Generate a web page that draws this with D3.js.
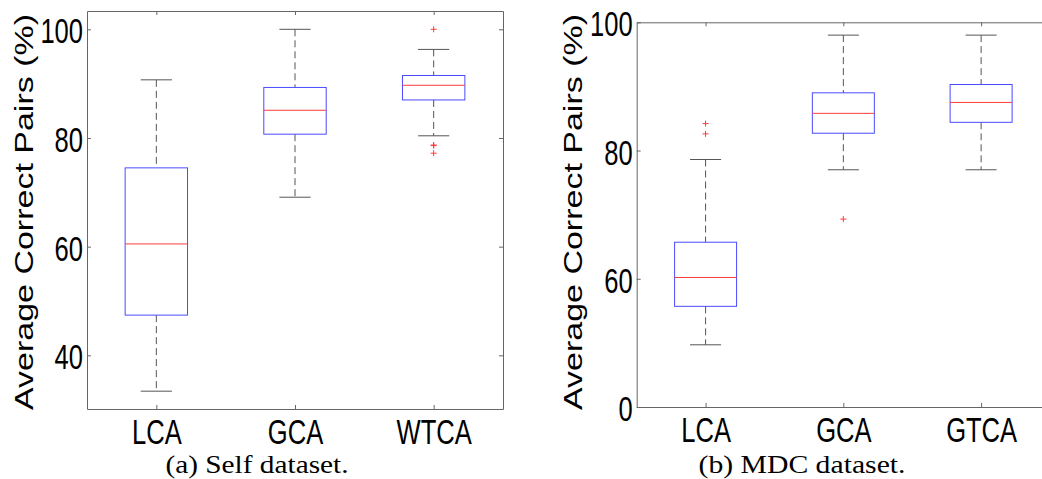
<!DOCTYPE html>
<html>
<head>
<meta charset="utf-8">
<script src="https://cdn.jsdelivr.net/npm/d3@7"></script>
<style>
  body { margin: 0; background: #fff; }
  svg { display: block; }
</style>
</head>
<body>
<div class="canvas"></div>
<script>
// Data: (a) Self dataset
const selfCategories = ["LCA", "GCA", "WTCA"];
const selfLow = [33.4, 69.1, 80.4];
const selfQ1 = [47.4, 80.7, 87.0];
const selfMedian = [60.5, 85.1, 89.7];
const selfQ3 = [74.5, 89.3, 91.5];
const selfHigh = [90.7, 100, 96.3];
const selfOutliers = [[], [], [100, 78.7, 78.6, 77.2]];
const selfTicks = [40, 60, 80, 100];
const selfTickLabels = ["40", "60", "80", "100"];

// Data: (b) MDC dataset
const mdcCategories = ["LCA", "GCA", "GTCA"];
const mdcLow = [49.7, 77.0, 77.0];
const mdcQ1 = [55.7, 82.7, 84.4];
const mdcMedian = [60.2, 85.8, 87.5];
const mdcQ3 = [65.7, 89.0, 90.3];
const mdcHigh = [78.6, 98.0, 98.0];
const mdcOutliers = [[84.2, 82.6], [69.3], []];
const mdcTicks = [40, 60, 80, 100];
const mdcTickLabels = ["0", "60", "80", "100"];

// Settings
const width = 1042;
const height = 479;
const frame_color = "#666";
const whisker_color = "#555";
const box_color = "#4a4aff";
const median_color = "#ff3b3b";
const tick_size = 4;
const squeeze = 0.73;      // figure was squeezed horizontally
const sans = "'Liberation Sans', Arial, Helvetica, sans-serif";

const svg = d3.select(".canvas").append("svg")
    .attr("width", width)
    .attr("height", height);

function drawPanel(p) {
  const x = d3.scaleLinear().domain([0.5, 3.5]).range([p.left, p.right]);
  const y = d3.scaleLinear().domain(p.yDomain).range([p.bottom, p.top]);
  const g = svg.append("g");

  const boxes = p.categories.map((c, i) => ({
    pos: i + 1, low: p.low[i], q1: p.q1[i], med: p.median[i],
    q3: p.q3[i], high: p.high[i], out: p.outliers[i]
  }));

  // frame axes
  const left = g.append("g").attr("transform", `translate(${p.left},0)`)
    .call(d3.axisLeft(y).tickValues(p.ticks).tickSizeInner(-tick_size).tickSizeOuter(0)
      .tickFormat((d, i) => p.tickLabels[i]));
  left.selectAll("text")
    .attr("x", null).attr("dy", null)
    .attr("text-anchor", "end")
    .attr("dominant-baseline", "central")
    .attr("transform", `translate(-4,1) scale(${squeeze},1)`)
    .style("font-family", sans).style("font-size", "35px").attr("fill", "#000");

  g.append("g").attr("transform", `translate(${p.right},0)`)
    .call(d3.axisRight(y).tickValues(p.ticks).tickSizeInner(-tick_size).tickSizeOuter(0).tickFormat(""));

  const bottom = g.append("g").attr("transform", `translate(0,${p.bottom})`)
    .call(d3.axisBottom(x).tickValues([1, 2, 3]).tickSizeInner(-tick_size).tickSizeOuter(0)
      .tickFormat((d, i) => p.categories[i]));
  bottom.selectAll("text")
    .attr("y", null).attr("dy", null)
    .attr("text-anchor", "middle")
    .attr("transform", `translate(0,35) scale(${squeeze},1)`)
    .style("font-family", sans).style("font-size", "35px").attr("fill", "#000");

  g.append("g").attr("transform", `translate(0,${p.top})`)
    .call(d3.axisTop(x).tickValues([1, 2, 3]).tickSizeInner(-tick_size).tickSizeOuter(0).tickFormat(""));

  g.selectAll(".domain, .tick line").attr("stroke", frame_color);

  const bw = 0.45, cw = 0.225;

  // whiskers
  g.selectAll("line.wu").data(boxes).enter().append("line")
    .attr("x1", d => x(d.pos)).attr("x2", d => x(d.pos))
    .attr("y1", d => y(d.high)).attr("y2", d => y(d.q3))
    .attr("stroke", whisker_color).attr("stroke-dasharray", "7,4");
  g.selectAll("line.wl").data(boxes).enter().append("line")
    .attr("x1", d => x(d.pos)).attr("x2", d => x(d.pos))
    .attr("y1", d => y(d.q1)).attr("y2", d => y(d.low))
    .attr("stroke", whisker_color).attr("stroke-dasharray", "7,4");

  // caps
  ["high", "low"].forEach(k => {
    g.selectAll("line.cap-" + k).data(boxes).enter().append("line")
      .attr("x1", d => x(d.pos - cw / 2)).attr("x2", d => x(d.pos + cw / 2))
      .attr("y1", d => y(d[k])).attr("y2", d => y(d[k]))
      .attr("stroke", whisker_color);
  });

  // boxes
  g.selectAll("rect.box").data(boxes).enter().append("rect")
    .attr("x", d => x(d.pos - bw / 2))
    .attr("width", d => x(d.pos + bw / 2) - x(d.pos - bw / 2))
    .attr("y", d => y(d.q3))
    .attr("height", d => y(d.q1) - y(d.q3))
    .attr("fill", "none").attr("stroke", box_color);

  // medians
  g.selectAll("line.med").data(boxes).enter().append("line")
    .attr("x1", d => x(d.pos - bw / 2)).attr("x2", d => x(d.pos + bw / 2))
    .attr("y1", d => y(d.med)).attr("y2", d => y(d.med))
    .attr("stroke", median_color);

  // outliers
  const outs = boxes.flatMap(d => d.out.map(v => ({ pos: d.pos, v: v })));
  g.selectAll("path.out").data(outs).enter().append("path")
    .attr("d", d => {
      const cx = x(d.pos), cy = y(d.v);
      return `M${cx - 3},${cy}H${cx + 3}M${cx},${cy - 3}V${cy + 3}`;
    })
    .attr("stroke", median_color).attr("fill", "none");

  // y title
  g.append("text")
    .attr("transform", `translate(${p.titleX},212) scale(0.745,1) rotate(-90)`)
    .attr("text-anchor", "middle")
    .style("font-family", sans).style("font-size", "34px")
    .text("Average Correct Pairs (%)");

  // caption
  g.append("text")
    .attr("x", p.captionX).attr("y", 473)
    .attr("text-anchor", "middle")
    .attr("textLength", p.captionW).attr("lengthAdjust", "spacingAndGlyphs")
    .style("font-family", "'Liberation Serif', 'DejaVu Serif', serif").style("font-size", "25px")
    .text(p.caption);
}

drawPanel({
  categories: selfCategories, low: selfLow, q1: selfQ1, median: selfMedian,
  q3: selfQ3, high: selfHigh, outliers: selfOutliers,
  ticks: selfTicks, tickLabels: selfTickLabels,
  yDomain: [30.12, 103.37],
  left: 87, right: 503, top: 11, bottom: 409,
  titleX: 33, captionX: 257, captionW: 183, caption: "(a) Self dataset."
});

drawPanel({
  categories: mdcCategories, low: mdcLow, q1: mdcQ1, median: mdcMedian,
  q3: mdcQ3, high: mdcHigh, outliers: mdcOutliers,
  ticks: mdcTicks, tickLabels: mdcTickLabels,
  yDomain: [40, 100],
  left: 636.7, right: 1050, top: 22.3, bottom: 407,
  titleX: 582, captionX: 802, captionW: 207, caption: "(b) MDC dataset."
});
</script>
</body>
</html>
